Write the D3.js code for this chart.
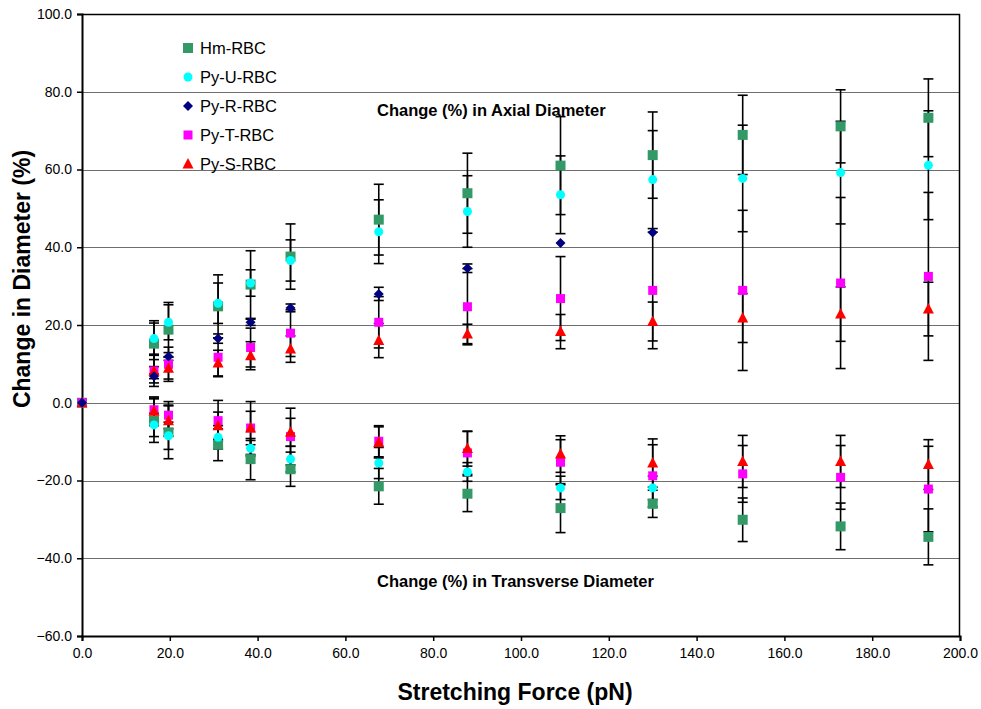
<!DOCTYPE html>
<html>
<head>
<meta charset="utf-8">
<script src="https://cdn.jsdelivr.net/npm/d3@7"></script>
<style>
  html, body { margin: 0; padding: 0; background: #fff; }
  svg { display: block; font-family: "Liberation Sans", Arial, Helvetica, sans-serif; }
</style>
</head>
<body>
<svg id="chart" width="981" height="709"></svg>
<script>
// Stretching force applied to the cell (pN)
const force = [0, 16.4, 19.7, 31.0, 38.4, 47.5, 67.6, 87.8, 109.0, 130.0, 150.5, 172.8, 192.8];

// Axial diameter change (%) and its error, per cell type
const hmAxial      = [0, 15.2, 18.8, 24.8, 30.4, 37.6, 47.1, 53.9, 61.0, 63.7, 68.9, 71.1, 73.3];
const hmAxialErr   = [0, 5.9, 7.0, 8.1, 8.7, 8.4, 9.1, 10.3, 12.6, 11.1, 10.2, 9.4, 10.0];
const pyUAxial     = [0, 16.5, 20.7, 25.6, 30.8, 36.6, 44.0, 49.2, 53.5, 57.4, 57.7, 59.2, 61.1];
const pyUAxialErr  = [0, 4.0, 4.5, 5.2, 3.4, 5.3, 8.2, 9.2, 10.0, 12.6, 13.7, 13.2, 14.0];
const pyRAxial     = [0, 6.8, 11.9, 16.5, 20.7, 24.4, 28.0, 34.6, 41.1, 43.8, null, null, null];
const pyRAxialErr  = [0, 0.6, 1.0, 1.2, 0.8, 1.0, 1.7, 1.1, 0, 0, null, null, null];
const pyTAxial     = [0, 8.2, 9.9, 11.7, 14.2, 17.9, 20.7, 24.7, 26.8, 28.9, 28.9, 30.8, 32.5];
const pyTAxialErr  = [0, 4.0, 4.4, 5.0, 5.0, 6.0, 6.6, 9.8, 10.8, 15.0, 20.6, 22.0, 21.6];
const pySAxial     = [0, 8.1, 8.9, 10.2, 12.1, 13.8, 16.0, 17.7, 18.3, 20.9, 21.8, 22.8, 24.1];
const pySAxialErr  = [0, 3.0, 2.8, 3.3, 3.6, 3.4, 4.4, 2.5, 4.4, 5.0, 6.3, 7.0, 6.9];

// Transverse diameter change (%) and its error, per cell type
const hmTrans      = [0, -4.6, -7.6, -10.8, -14.5, -17.1, -21.5, -23.4, -27.1, -26.0, -30.1, -31.8, -34.5];
const hmTransErr   = [0, 5.6, 6.8, 4.1, 5.3, 4.4, 4.6, 4.6, 6.3, 3.5, 5.6, 6.0, 7.2];
const pyUTrans     = [0, -5.7, -8.5, -8.9, -11.7, -14.5, -15.5, -17.8, -21.9, -21.9, null, null, null];
const pyUTransErr  = [0, 3.0, 3.5, 3.0, 2.0, 3.3, 4.0, 2.4, 3.0, 3.0, null, null, null];
const pyRTrans     = [0, null, null, null, null, null, null, null, null, null, null, null, null];
const pyRTransErr  = [0, null, null, null, null, null, null, null, null, null, null, null, null];
const pyTTrans     = [0, -1.8, -3.2, -4.6, -6.5, -8.7, -9.9, -12.9, -15.3, -18.8, -18.3, -19.2, -22.2];
const pyTTransErr  = [0, 3.0, 3.5, 5.2, 6.8, 7.3, 4.0, 5.5, 5.8, 8.0, 7.3, 8.2, 11.0];
const pySTrans     = [0, -2.2, -4.6, -5.9, -6.5, -7.6, -10.2, -11.8, -13.2, -15.5, -15.1, -15.1, -15.9];
const pySTransErr  = [0, 3.7, 4.0, 3.5, 4.3, 3.6, 4.0, 4.5, 4.7, 6.2, 6.7, 6.7, 6.4];

const seriesNames  = ["Hm-RBC", "Py-U-RBC", "Py-R-RBC", "Py-T-RBC", "Py-S-RBC"];
const xTicks = [0, 20, 40, 60, 80, 100, 120, 140, 160, 180, 200];
const yTicks = [-60, -40, -20, 0, 20, 40, 60, 80, 100];

const series = [
  { name: seriesNames[0], color: "#339966", shape: "square",   size: 10, axial: hmAxial,  axialErr: hmAxialErr,  trans: hmTrans,  transErr: hmTransErr },
  { name: seriesNames[1], color: "#00FFFF", shape: "circle",   size: 9,  axial: pyUAxial, axialErr: pyUAxialErr, trans: pyUTrans, transErr: pyUTransErr },
  { name: seriesNames[2], color: "#000080", shape: "diamond",  size: 9,  axial: pyRAxial, axialErr: pyRAxialErr, trans: pyRTrans, transErr: pyRTransErr },
  { name: seriesNames[3], color: "#FF00FF", shape: "square",   size: 9,  axial: pyTAxial, axialErr: pyTAxialErr, trans: pyTTrans, transErr: pyTTransErr },
  { name: seriesNames[4], color: "#FF0000", shape: "triangle", size: 10, axial: pySAxial, axialErr: pySAxialErr, trans: pySTrans, transErr: pySTransErr }
];
// marker stacking (bottom to top)
const drawOrder = [0, 1, 3, 4, 2];

const svg = d3.select("#chart");
const plot = { left: 82, right: 960, top: 14, bottom: 636 };
const x = d3.scaleLinear().domain([0, 200]).range([plot.left, plot.right]);
const y = d3.scaleLinear().domain([-60, 100]).range([plot.bottom, plot.top]);

// gridlines
svg.append("g").selectAll("line").data(yTicks.filter(v => v > -60 && v < 100)).join("line")
  .attr("x1", plot.left).attr("x2", plot.right)
  .attr("y1", d => Math.round(y(d)) + 0.5).attr("y2", d => Math.round(y(d)) + 0.5)
  .attr("stroke", "#6e6e6e").attr("stroke-width", 1);

// plot frame: top and right
svg.append("line").attr("x1", plot.left).attr("x2", plot.right).attr("y1", plot.top + 0.5).attr("y2", plot.top + 0.5)
  .attr("stroke", "#000").attr("stroke-width", 1.5);
svg.append("line").attr("x1", plot.right - 0.5).attr("x2", plot.right - 0.5).attr("y1", plot.top).attr("y2", plot.bottom)
  .attr("stroke", "#000").attr("stroke-width", 1.5);

// axes
const yAxis = d3.axisLeft(y).tickValues(yTicks).tickFormat(d3.format(".1f")).tickSize(5).tickPadding(5);
const xAxis = d3.axisBottom(x).tickValues(xTicks).tickFormat(d3.format(".1f")).tickSize(5).tickPadding(7);

const gy = svg.append("g").attr("transform", `translate(${plot.left},0)`).call(yAxis);
const gx = svg.append("g").attr("transform", `translate(0,${plot.bottom})`).call(xAxis);
[gx, gy].forEach(g => {
  g.select(".domain").attr("stroke", "#000").attr("stroke-width", 2);
  g.selectAll(".tick line").attr("stroke", "#000").attr("stroke-width", 1.5);
  g.selectAll(".tick text").attr("fill", "#000").style("font-size", "14px")
    .style("font-family", '"Liberation Sans", Arial, sans-serif');
});

// error bars (drawn beneath all markers)
const errG = svg.append("g");
const capHalf = 5;
series.forEach(s => {
  [["axial", "axialErr"], ["trans", "transErr"]].forEach(([vk, ek]) => {
    force.forEach((f, i) => {
      const v = s[vk][i], e = s[ek][i];
      if (v == null || e == null || e <= 0) return;
      const cx = x(f), y1 = y(v + e), y2 = y(v - e);
      errG.append("line").attr("x1", cx).attr("x2", cx).attr("y1", y1).attr("y2", y2)
        .attr("stroke", "#000").attr("stroke-width", 1.6);
      [y1, y2].forEach(yy => errG.append("line")
        .attr("x1", cx - capHalf).attr("x2", cx + capHalf).attr("y1", yy).attr("y2", yy)
        .attr("stroke", "#000").attr("stroke-width", 1.6));
    });
  });
});

function markerPath(shape, size) {
  const h = size / 2;
  switch (shape) {
    case "square":   return `M${-h},${-h}H${h}V${h}H${-h}Z`;
    case "diamond":  return `M0,${-h - 0.5}L${h + 0.5},0L0,${h + 0.5}L${-h - 0.5},0Z`;
    case "triangle": return `M0,${-h - 1}L${h + 0.5},${h - 0.5}L${-h - 0.5},${h - 0.5}Z`;
    default:         return d3.symbol(d3.symbolCircle, Math.PI * h * h)();
  }
}

// markers
const markG = svg.append("g");
drawOrder.forEach(k => {
  const s = series[k];
  const pts = [];
  force.forEach((f, i) => {
    if (s.axial[i] != null) pts.push([f, s.axial[i]]);
    if (i > 0 && s.trans[i] != null) pts.push([f, s.trans[i]]);
  });
  markG.append("g").selectAll("path").data(pts).join("path")
    .attr("transform", d => `translate(${x(d[0])},${y(d[1])})`)
    .attr("d", markerPath(s.shape, s.size))
    .attr("fill", s.color);
});

// legend
const legend = svg.append("g").attr("transform", "translate(188,48)");
series.forEach((s, i) => {
  const row = legend.append("g").attr("transform", `translate(0,${i * 29})`);
  row.append("path").attr("d", markerPath(s.shape, s.size)).attr("fill", s.color);
  row.append("text").attr("x", 12).attr("y", 6).text(s.name)
    .style("font-size", "16.5px").attr("fill", "#000");
});

// region labels
svg.append("text").attr("x", 377).attr("y", 116).text("Change (%) in Axial Diameter")
  .style("font-size", "16.5px").style("font-weight", "bold");
svg.append("text").attr("x", 377).attr("y", 587).text("Change (%) in Transverse Diameter")
  .style("font-size", "16.5px").style("font-weight", "bold");

// axis titles
svg.append("text").attr("x", 515).attr("y", 700).attr("text-anchor", "middle")
  .text("Stretching Force (pN)").style("font-size", "23px").style("font-weight", "bold");
svg.append("text").attr("transform", "translate(30,279) rotate(-90)").attr("text-anchor", "middle")
  .text("Change in Diameter (%)").style("font-size", "23px").style("font-weight", "bold");
</script>
</body>
</html>
